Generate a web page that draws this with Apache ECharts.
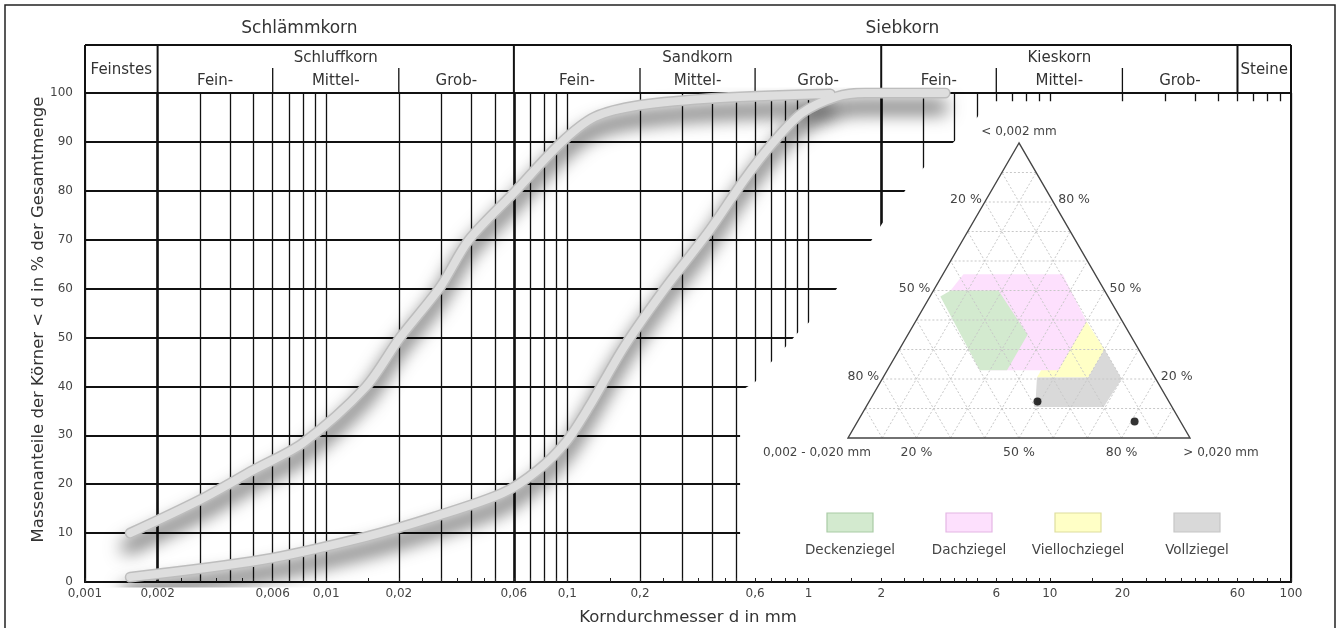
<!DOCTYPE html>
<html>
<head>
<meta charset="utf-8">
<title>Körnungslinien</title>
<script src="https://cdn.jsdelivr.net/npm/echarts@6/dist/echarts.min.js"></script>
<style>
  html, body { margin: 0; padding: 0; background: #fff; }
  #chart { width: 1341px; height: 628px; }
</style>
</head>
<body>
<div id="chart"></div>
<script>
// Kornverteilung (Sieblinien) mit Dreiecksdiagramm der Ziegelrohstoffe
const FONT = 'DejaVu Sans';

// Kopfzeile: Kornfraktionen in mm
const groupNames = ['Schlämmkorn', 'Siebkorn'];
const groupBounds = [0.001, 0.06, 100];
const fractionNames = ['Feinstes', 'Schluffkorn', 'Sandkorn', 'Kieskorn', 'Steine'];
const fractionBounds = [0.001, 0.002, 0.06, 2, 60, 100];
const subNames = ['Fein-', 'Mittel-', 'Grob-'];
const subBounds = [null, [0.002, 0.006, 0.02, 0.06], [0.06, 0.2, 0.6, 2], [2, 6, 20, 60], null];

// Achsen
const xLabelValues = [0.001, 0.002, 0.006, 0.01, 0.02, 0.06, 0.1, 0.2, 0.6, 1, 2, 6, 10, 20, 60, 100];
const gridDecades = [0.001, 0.01, 0.1, 1, 10];
const gridSteps = [1, 2, 3, 4, 5, 6, 7, 8, 9];
const tickSteps = [1, 1.5, 2, 2.5, 3, 3.5, 4, 4.5, 5, 6, 7, 8, 9];
const majorLines = [0.002, 0.06, 2];

// Sieblinien: Korndurchmesser in mm / Massenanteil in %
const fineDiam = [0.00154, 0.003, 0.005, 0.008, 0.0146, 0.0202, 0.0297, 0.039, 0.0606, 0.094, 0.13, 0.2, 0.43, 1.23];
const finePct = [10, 16.8, 22.9, 28.4, 39.9, 49.9, 60.3, 69.9, 79.8, 89.8, 95.1, 97.5, 99, 99.8];
const coarseDiam = [0.00154, 0.0054, 0.0145, 0.028, 0.054, 0.0755, 0.0986, 0.123, 0.172, 0.251, 0.39, 0.54, 0.711, 0.939, 1.3, 1.71, 3.68];
const coarsePct = [1, 4.5, 9.2, 13.3, 18.2, 22.9, 28.6, 35.8, 48.1, 59.7, 72, 82.2, 89.8, 95.9, 99.2, 100, 100];

// Rand der weißen Einschubfläche (mm, %)
const panelEdge = [[0.52, 0], [0.52, 39], [0.6, 40.9], [0.7, 45], [0.8, 48], [0.9, 50.9], [1, 53], [1.31, 60],
  [1.83, 70], [2, 73], [2.51, 80], [3, 84.7], [4, 90], [5, 95], [5.5, 98.3], [100, 98.3], [100, 0]];

// Dreiecksdiagramm: [< 0,002 mm, 0,002 - 0,020 mm, > 0,020 mm] in %
const cornerLabels = ['< 0,002 mm', '0,002 - 0,020 mm', '> 0,020 mm'];
const sideTicks = [20, 50, 80];
const regionNames = ['Deckenziegel', 'Dachziegel', 'Viellochziegel', 'Vollziegel'];
const deckenziegel = [[50, 45, 5], [50, 31, 19], [35, 30, 35], [23, 42, 35], [23, 50, 27], [48, 49, 3]];
const dachziegel = [[55.5, 38.5, 6], [55.5, 9.5, 35], [39.5, 10.5, 50], [23, 27, 50], [23, 47, 30], [50, 45, 5]];
const viellochziegel = [[39.5, 10.5, 50], [30, 10, 60], [20.5, 19.5, 60], [20.5, 34.5, 45], [25, 30, 45]];
const vollziegel = [[30, 10, 60], [20, 10, 70], [10.5, 20, 69.5], [10.5, 40, 49.5], [20.5, 34.5, 45], [20.5, 19.5, 60]];
const samples = [[12.4, 38.4, 49.2], [5.6, 13.4, 81]];

const regionShapes = [deckenziegel, dachziegel, viellochziegel, vollziegel];
const regionFill = ['#d3eacf', '#fde0fd', '#ffffc6', '#d9d9d9'];
const regionStroke = ['#a9cba5', '#e4b6e4', '#dede9e', '#c6c6c6'];
const drawOrder = [2, 1, 0, 3];
const legendX = [850, 969, 1078, 1197];

const lg = Math.log10;
const gridValues = [].concat(...gridDecades.map(d => gridSteps.map(s => lg(d * s)))).concat([2]);
const tickValues = [].concat(...gridDecades.map(d => tickSteps.map(s => lg(d * s)))).concat([2]);
const S3 = Math.sqrt(3) / 2;
const tern = p => {
  const t = p[0] + p[1] + p[2];
  return [(p[2] + p[0] / 2) / t, p[0] / t * S3];
};
const mmLabel = v => String(Number(Math.pow(10, v).toPrecision(2))).replace('.', ',');

function renderHeader(params, api) {
  const lx = d => api.coord([lg(d), 100])[0];
  const top = api.coord([0, 100])[1];
  const boxTop = top - 48, subTop = top - 25;
  const kids = [];
  const seg = (x1, y1, x2, y2, w) => kids.push({
    type: 'line', shape: { x1, y1, x2, y2 }, style: { stroke: '#111', lineWidth: w }
  });
  const txt = (text, x, y, size) => kids.push({
    type: 'text', x, y,
    style: { text, fill: '#333', fontSize: size, fontFamily: FONT, align: 'center', verticalAlign: 'middle' }
  });
  seg(lx(0.001), boxTop, lx(100), boxTop, 2);
  fractionBounds.forEach(b => seg(lx(b), boxTop, lx(b), top, 2));
  groupNames.forEach((n, i) => txt(n, (lx(groupBounds[i]) + lx(groupBounds[i + 1])) / 2, top - 64, 17));
  fractionNames.forEach((n, i) => {
    const x0 = lx(fractionBounds[i]), x1 = lx(fractionBounds[i + 1]);
    const sb = subBounds[i];
    if (!sb) {
      txt(n, (x0 + x1) / 2, top - 23, 15);
      return;
    }
    txt(n, (x0 + x1) / 2, top - 35, 15);
    sb.slice(1, 3).forEach(b => seg(lx(b), subTop, lx(b), top, 1.3));
    subNames.forEach((s, k) => txt(s, (lx(sb[k]) + lx(sb[k + 1])) / 2, top - 12, 15));
  });
  return { type: 'group', children: kids };
}

function renderPanel(params, api) {
  const points = panelEdge.map(p => api.coord([lg(p[0]), p[1]]));
  return { type: 'polygon', shape: { points }, style: { fill: '#fff' } };
}

function renderRegion(params, api) {
  const k = drawOrder[params.dataIndex];
  const points = regionShapes[k].map(p => api.coord(tern(p)));
  return { type: 'polygon', shape: { points }, style: { fill: regionFill[k] } };
}

function renderTernary(params, api) {
  const pt = p => api.coord(tern(p));
  const kids = [];
  const line = (a, b, style) => {
    const A = pt(a), B = pt(b);
    kids.push({ type: 'line', shape: { x1: A[0], y1: A[1], x2: B[0], y2: B[1] }, style });
  };
  const txt = (text, x, y, align, size) => kids.push({
    type: 'text', x, y,
    style: { text, fill: '#444', fontSize: size || 12.5, fontFamily: FONT, align, verticalAlign: 'middle' }
  });
  const dash = { stroke: '#c8c8c8', lineWidth: 1, lineDash: [2, 2] };
  for (let v = 10; v < 100; v += 10) {
    line([v, 100 - v, 0], [v, 0, 100 - v], dash);
    line([0, 100 - v, v], [100 - v, 0, v], dash);
    line([0, v, 100 - v], [100 - v, v, 0], dash);
  }
  const corners = [pt([100, 0, 0]), pt([0, 100, 0]), pt([0, 0, 100])];
  kids.push({ type: 'polygon', shape: { points: corners }, style: { fill: 'none', stroke: '#444', lineWidth: 1.4 } });
  sideTicks.forEach(v => {
    const L = pt([100 - v, v, 0]);
    txt(v + ' %', L[0] - 3, L[1] - 2, 'right');
    const R = pt([v, 0, 100 - v]);
    txt(v + ' %', R[0] + 5, R[1] - 2, 'left');
    const B = pt([0, 100 - v, v]);
    txt(v + ' %', B[0], B[1] + 15, 'center');
  });
  txt(cornerLabels[0], corners[0][0], corners[0][1] - 11, 'center', 12);
  txt(cornerLabels[1], corners[1][0] - 31, corners[1][1] + 15, 'center', 12);
  txt(cornerLabels[2], corners[2][0] + 31, corners[2][1] + 15, 'center', 12);
  return { type: 'group', children: kids };
}

const curveStyle = (data, width, color, shadow) => ({
  type: 'line', xAxisIndex: 2, yAxisIndex: 0, data, smooth: 0.3, showSymbol: false, silent: true, z: 6,
  lineStyle: Object.assign({ width, color, cap: 'round', join: 'round' }, shadow ? {
    shadowBlur: 18, shadowColor: 'rgba(0,0,0,0.7)', shadowOffsetX: -3, shadowOffsetY: 14
  } : {})
});
const fineData = fineDiam.map((d, i) => [lg(d), finePct[i]]);
const coarseData = coarseDiam.map((d, i) => [lg(d), coarsePct[i]]);

const chart = echarts.init(document.getElementById('chart'));
chart.setOption({
  animation: false,
  backgroundColor: '#fff',
  textStyle: { fontFamily: FONT },
  grid: [
    { left: 85, right: 50, top: 93, bottom: 46, outerBoundsMode: 'none' },
    { left: 848, top: 143, width: 342, height: 295, outerBoundsMode: 'none' }
  ],
  xAxis: [
    {
      type: 'value', min: -3, max: 2, gridIndex: 0, z: 0,
      axisLine: { show: false, onZero: false }, axisLabel: { show: false },
      axisTick: { show: false, customValues: gridValues },
      splitLine: { show: true, lineStyle: { color: '#111', width: 1.3 } }
    },
    {
      type: 'value', min: -3, max: 2, gridIndex: 0, z: 0,
      axisLine: { show: false, onZero: false }, axisLabel: { show: false },
      axisTick: { show: false, customValues: majorLines.map(lg) },
      splitLine: { show: true, lineStyle: { color: '#111', width: 2.6 } }
    },
    {
      type: 'value', min: -3, max: 2, gridIndex: 0, z: 5, position: 'bottom',
      name: 'Korndurchmesser d in mm', nameLocation: 'middle', nameGap: 27,
      nameTextStyle: { fontSize: 16.5, color: '#333', fontFamily: FONT },
      axisLine: { show: true, onZero: false, lineStyle: { color: '#111', width: 2 } },
      axisTick: { show: true, inside: true, length: 4, customValues: tickValues, lineStyle: { color: '#222', width: 1 } },
      axisLabel: {
        show: true, customValues: xLabelValues.map(lg), formatter: mmLabel, margin: 6,
        fontSize: 12, color: '#444', fontFamily: FONT, hideOverlap: false
      },
      splitLine: { show: false }
    },
    { type: 'value', gridIndex: 1, min: 0, max: 1, show: false }
  ],
  yAxis: [
    {
      type: 'value', min: 0, max: 100, interval: 10, gridIndex: 0, z: 0, position: 'left',
      name: 'Massenanteile der Körner < d in % der Gesamtmenge', nameLocation: 'middle', nameGap: 38,
      nameMoveOverlap: false,
      nameTextStyle: { fontSize: 16.5, color: '#333', fontFamily: FONT, padding: [0, 0, 0, 36] },
      axisLine: { show: true, onZero: false, lineStyle: { color: '#111', width: 2 } },
      axisTick: { show: false },
      axisLabel: { fontSize: 12, color: '#444', margin: 12, fontFamily: FONT },
      splitLine: { show: true, lineStyle: { color: '#111', width: 2 } }
    },
    {
      type: 'value', min: 0, max: 100, gridIndex: 0, position: 'right', z: 5,
      axisLine: { show: true, onZero: false, lineStyle: { color: '#111', width: 2 } },
      axisTick: { show: false }, axisLabel: { show: false }, splitLine: { show: false }
    },
    { type: 'value', gridIndex: 1, min: 0, max: S3, show: false }
  ],
  series: [
    { type: 'custom', xAxisIndex: 2, yAxisIndex: 0, z: 1, silent: true, clip: false, data: [[0, 0]], renderItem: renderPanel },
    { type: 'custom', xAxisIndex: 2, yAxisIndex: 0, z: 3, silent: true, clip: false, data: [[0, 0]], renderItem: renderHeader },
    { type: 'custom', xAxisIndex: 3, yAxisIndex: 2, z: 2, silent: true, clip: false, data: drawOrder.map(() => [0, 0]), renderItem: renderRegion },
    { type: 'custom', xAxisIndex: 3, yAxisIndex: 2, z: 3, silent: true, clip: false, data: [[0, 0]], renderItem: renderTernary },
    {
      type: 'scatter', xAxisIndex: 3, yAxisIndex: 2, z: 4, silent: true, symbolSize: 8,
      itemStyle: { color: '#000' }, data: samples.map(tern)
    },
    curveStyle(fineData, 11, '#bdbdbd', true),
    curveStyle(coarseData, 11, '#bdbdbd', true),
    curveStyle(fineData, 8, '#dedede', false),
    curveStyle(coarseData, 8, '#dedede', false)
  ],
  graphic: [
    {
      type: 'rect', silent: true, z: 10,
      shape: { x: 5, y: 5, width: 1330, height: 700 },
      style: { fill: 'none', stroke: '#222', lineWidth: 1.5 }
    }
  ].concat(regionNames.map((name, i) => ({
    type: 'group', x: legendX[i], y: 513, z: 10, silent: true,
    children: [
      { type: 'rect', z: 10, shape: { x: -23, y: 0, width: 46, height: 19 }, style: { fill: regionFill[i], stroke: regionStroke[i], lineWidth: 1.2 } },
      { type: 'text', z: 10, x: 0, y: 37, style: { text: name, fill: '#444', fontSize: 13.5, fontFamily: FONT, align: 'center', verticalAlign: 'middle' } }
    ]
  })))
});
</script>
</body>
</html>
